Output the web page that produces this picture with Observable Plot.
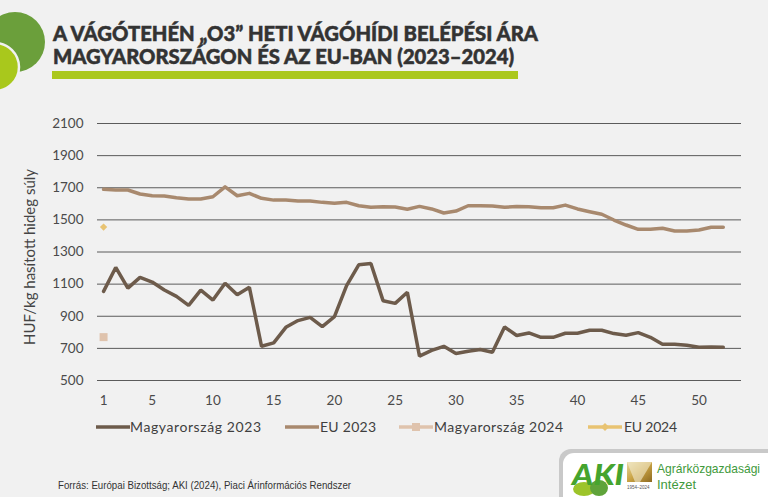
<!DOCTYPE html>
<html>
<head>
<meta charset="utf-8">
<script src="https://cdn.jsdelivr.net/npm/d3@7"></script>
<script src="https://cdn.jsdelivr.net/npm/@observablehq/plot@0.6"></script>
<style>
  html,body{margin:0;padding:0;background:#f1f1f1;}
  #wrap{position:relative;width:768px;height:497px;overflow:hidden;background:#f1f1f1;}
  #chart{position:absolute;left:0;top:0;}
  #deco{position:absolute;left:0;top:0;pointer-events:none;}
</style>
</head>
<body>
<div id="wrap">
  <div id="chart"></div>
  <svg id="deco" width="768" height="497" viewBox="0 0 768 497" xmlns="http://www.w3.org/2000/svg">
    <defs>
      <linearGradient id="gold" x1="0" y1="0" x2="1" y2="1">
        <stop offset="0" stop-color="#e9d9a0"/>
        <stop offset="0.5" stop-color="#c9a243"/>
        <stop offset="1" stop-color="#8d6a22"/>
      </linearGradient>
    </defs>
    <circle cx="15" cy="42" r="30" fill="#6b9f3b"/>
    <circle cx="-5" cy="67" r="24" fill="#a9c81c" stroke="#f1f1f1" stroke-width="2.5"/>
    <g font-family="Lato, 'Open Sans', sans-serif" font-weight="900" fill="#333333" font-size="20" stroke="#333333" stroke-width="0.5">
      <text id="t1" x="53" y="41" textLength="485" lengthAdjust="spacingAndGlyphs"></text>
      <text id="t2" x="53" y="63.5" textLength="461" lengthAdjust="spacingAndGlyphs"></text>
    </g>
    <rect x="52" y="71" width="466" height="8" fill="#abc81e"/>
    <text id="ylab" transform="translate(35,257) rotate(-90)" text-anchor="middle" font-family="Lato, sans-serif" font-size="15" fill="#444"></text>
    <g id="legend" font-family="Lato, sans-serif" font-size="14" fill="#3f3f3f"></g>
    <text id="foot" x="58" y="489" font-family="'Liberation Sans Narrow', 'Arial Narrow', sans-serif" font-size="10.5" fill="#333" textLength="293" lengthAdjust="spacingAndGlyphs"></text>
    <!-- logo panel -->
    <rect x="559" y="449" width="230" height="60" rx="12" fill="#c9c9c9"/>
    <rect x="563" y="453" width="230" height="60" rx="11" fill="#ffffff"/>
    <ellipse cx="584" cy="489" rx="11" ry="7" fill="#9dc42a"/>
    <ellipse cx="599" cy="488" rx="9" ry="8" fill="#5fa33a"/>
    <text x="572" y="485" font-family="Lato, sans-serif" font-weight="900" font-style="italic" font-size="28" fill="#45a42e" textLength="52" lengthAdjust="spacingAndGlyphs">AKI</text>
    <rect x="627" y="462" width="25" height="20" fill="url(#gold)"/>
    <path d="M627 462 L652 462 L640 482 L635 482 Z" fill="#f3ecd2" opacity="0.6"/>
    <text x="627" y="489" font-family="'Liberation Sans', sans-serif" font-size="4.5" fill="#555">1954–2024</text>
    <g font-family="'Liberation Sans', Arial, sans-serif" font-size="13" fill="#3f9a3c">
      <text x="657" y="473" textLength="103" lengthAdjust="spacingAndGlyphs">Agrárközgazdasági</text>
      <text x="657" y="489">Intézet</text>
    </g>
  </svg>
</div>
<script>
// ---- data ----
const titleLines = ["A VÁGÓTEHÉN „O3” HETI VÁGÓHÍDI BELÉPÉSI ÁRA", "MAGYARORSZÁGON ÉS AZ EU-BAN (2023–2024)"];
const yLabel = "HUF/kg hasított hideg súly";
const source = "Forrás: Európai Bizottság; AKI (2024), Piaci Árinformációs Rendszer";
const seriesNames = ["Magyarország 2023", "EU 2023", "Magyarország 2024", "EU 2024"];
const seriesColors = ["#6d5b4b", "#a8896e", "#dfc3ad", "#e8c372"];

const weeks = [1,2,3,4,5,6,7,8,9,10,11,12,13,14,15,16,17,18,19,20,21,22,23,24,25,26,
               27,28,29,30,31,32,33,34,35,36,37,38,39,40,41,42,43,44,45,46,47,48,49,50,51,52];
const hu2023 = [1055,1204,1075,1142,1113,1063,1024,968,1063,1001,1106,1034,1080,713,734,831,873,893,835,898,
                1090,1220,1228,997,980,1049,652,687,713,668,682,693,676,833,780,796,769,769,794,794,
                813,813,792,782,798,769,726,726,720,707,709,707];
const eu2023 = [1690,1686,1686,1661,1650,1648,1638,1630,1630,1644,1706,1650,1665,1634,1623,1623,1617,1617,1609,1603,
                1609,1588,1578,1582,1580,1566,1584,1568,1543,1555,1588,1588,1586,1578,1584,1582,1576,1576,1592,1568,
                1551,1535,1499,1468,1441,1441,1448,1431,1431,1437,1454,1454];
const weeks2024 = [1];
const hu2024 = [770];
const eu2024 = [1455];

const xTicks = [1,5,10,15,20,25,30,35,40,45,50];
const yTicks = [500,700,900,1100,1300,1500,1700,1900,2100];

// ---- tables ----
const t2023 = weeks.map((w,i) => ({week: w, hu: hu2023[i], eu: eu2023[i]}));
const t2024 = weeks2024.map((w,i) => ({week: w, hu: hu2024[i], eu: eu2024[i]}));

const chart = Plot.plot({
  width: 768,
  height: 497,
  marginLeft: 97,
  marginRight: 27,
  marginTop: 123,
  marginBottom: 117,
  style: {background: "transparent", fontFamily: "Lato, sans-serif", fontSize: "13.5px", color: "#4a4a4a"},
  x: {domain: [0.5, 53.5], ticks: xTicks, tickSize: 0, tickPadding: 15, label: null, tickFormat: d => String(d)},
  y: {domain: [500, 2100], ticks: yTicks, tickSize: 0, tickPadding: 14, label: null, tickFormat: d => String(d)},
  marks: [
    Plot.ruleY(yTicks, {stroke: "#5b5b5b", strokeWidth: 1}),
    Plot.line(t2023, {x: "week", y: "eu", stroke: seriesColors[1], strokeWidth: 3.5, strokeLinejoin: "round"}),
    Plot.line(t2023, {x: "week", y: "hu", stroke: seriesColors[0], strokeWidth: 3.5, strokeLinejoin: "miter"}),
    Plot.dot(t2024, {x: "week", y: "hu", symbol: "square", r: 4.5, fill: seriesColors[2], stroke: "none"}),
    Plot.dot(t2024, {x: "week", y: "eu", symbol: "diamond2", r: 3.3, fill: seriesColors[3], stroke: "none"})
  ]
});
document.getElementById("chart").appendChild(chart);

document.getElementById("t1").textContent = titleLines[0];
document.getElementById("t2").textContent = titleLines[1];
document.getElementById("ylab").textContent = yLabel;
document.getElementById("foot").textContent = source;

// legend
const NS = "http://www.w3.org/2000/svg";
const lg = document.getElementById("legend");
const legendItems = [
  {x0: 96, x1: 130, tx: 130, tw: 131, marker: null},
  {x0: 285, x1: 319, tx: 320, tw: 56, marker: null},
  {x0: 399, x1: 433, tx: 434, tw: 129, marker: "square"},
  {x0: 588, x1: 622, tx: 624, tw: 53, marker: "diamond"}
];
const ly = 427;
legendItems.forEach((it, i) => {
  const ln = document.createElementNS(NS, "line");
  ln.setAttribute("x1", it.x0); ln.setAttribute("x2", it.x1);
  ln.setAttribute("y1", ly); ln.setAttribute("y2", ly);
  ln.setAttribute("stroke", seriesColors[i]); ln.setAttribute("stroke-width", 3.5);
  lg.appendChild(ln);
  const cx = (it.x0 + it.x1) / 2;
  if (it.marker === "square") {
    const r = document.createElementNS(NS, "rect");
    r.setAttribute("x", cx - 4); r.setAttribute("y", ly - 4);
    r.setAttribute("width", 8); r.setAttribute("height", 8);
    r.setAttribute("fill", seriesColors[i]);
    lg.appendChild(r);
  } else if (it.marker === "diamond") {
    const p = document.createElementNS(NS, "path");
    p.setAttribute("d", `M${cx} ${ly-4} L${cx+4} ${ly} L${cx} ${ly+4} L${cx-4} ${ly} Z`);
    p.setAttribute("fill", seriesColors[i]);
    lg.appendChild(p);
  }
  const t = document.createElementNS(NS, "text");
  t.setAttribute("x", it.tx); t.setAttribute("y", ly + 5);
  t.setAttribute("textLength", it.tw); t.setAttribute("lengthAdjust", "spacing");
  t.textContent = seriesNames[i];
  lg.appendChild(t);
});
</script>
</body>
</html>
